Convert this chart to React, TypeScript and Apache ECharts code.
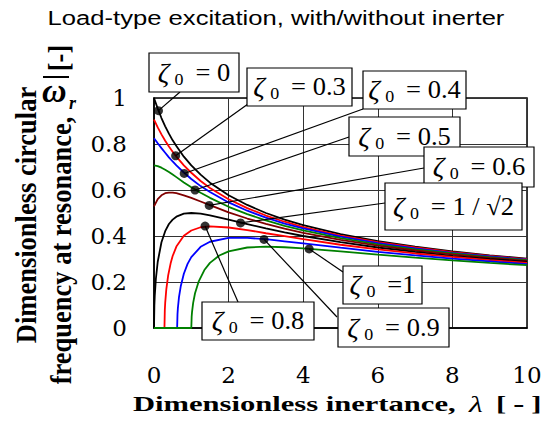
import React, { useEffect, useRef } from "react";
import * as echarts from "echarts";

const SERIF = "Liberation Serif, Times New Roman, serif";
const SANS = "Liberation Sans, Arial, sans-serif";
const TICK_FONT = "DejaVu Serif, serif";

// λ grid shared by the curves that start at λ = 0 with a non-zero value
const lambdaGrid = [0, 0.1, 0.2, 0.3, 0.4, 0.5, 0.6, 0.8, 1, 1.25, 1.5, 2, 2.5, 3, 3.5, 4, 5, 6, 7, 8, 9, 10];
const omegaZeta0 = [1, 0.954, 0.913, 0.877, 0.845, 0.816, 0.791, 0.745, 0.707, 0.667, 0.632, 0.577, 0.535, 0.5, 0.471, 0.447, 0.408, 0.378, 0.354, 0.333, 0.316, 0.302];
const omegaZeta03 = [0.906, 0.872, 0.842, 0.814, 0.789, 0.766, 0.745, 0.707, 0.675, 0.639, 0.609, 0.56, 0.521, 0.489, 0.462, 0.439, 0.402, 0.373, 0.35, 0.33, 0.313, 0.299];
const omegaZeta04 = [0.825, 0.803, 0.782, 0.762, 0.742, 0.724, 0.707, 0.676, 0.648, 0.617, 0.591, 0.546, 0.51, 0.48, 0.454, 0.433, 0.397, 0.369, 0.346, 0.327, 0.311, 0.297];
const omegaZeta05 = [0.707, 0.704, 0.697, 0.688, 0.678, 0.667, 0.656, 0.633, 0.612, 0.588, 0.566, 0.527, 0.495, 0.468, 0.444, 0.424, 0.391, 0.364, 0.342, 0.324, 0.308, 0.295];
const omegaZeta06 = [0.529, 0.56, 0.577, 0.586, 0.589, 0.589, 0.586, 0.577, 0.566, 0.55, 0.534, 0.503, 0.476, 0.453, 0.432, 0.414, 0.383, 0.358, 0.337, 0.32, 0.305, 0.292];

// curves that start from zero: [λ, ω̄r] pairs
const curveZetaInvSqrt2 = [[0, 0], [0.01, 0.099], [0.02, 0.139], [0.05, 0.213], [0.1, 0.288], [0.2, 0.373], [0.3, 0.421], [0.4, 0.452], [0.5, 0.471], [0.6, 0.484], [0.8, 0.497], [1, 0.5], [1.25, 0.497], [1.5, 0.49], [2, 0.471], [2.5, 0.452], [3, 0.433], [3.5, 0.416], [4, 0.4], [5, 0.373], [6, 0.35], [7, 0.331], [8, 0.314], [9, 0.3], [10, 0.288]];
const curveZeta08 = [[0, 0], [0.28, 0], [0.29, 0.078], [0.3, 0.109], [0.33, 0.168], [0.38, 0.229], [0.45, 0.284], [0.5, 0.313], [0.6, 0.354], [0.8, 0.401], [1, 0.424], [1.25, 0.438], [1.5, 0.442], [2, 0.437], [2.5, 0.426], [3, 0.412], [3.5, 0.399], [4, 0.386], [5, 0.362], [6, 0.342], [7, 0.324], [8, 0.309], [9, 0.295], [10, 0.283]];
const curveZeta09 = [[0, 0], [0.62, 0], [0.63, 0.061], [0.64, 0.086], [0.67, 0.134], [0.72, 0.184], [0.8, 0.236], [0.9, 0.279], [1, 0.308], [1.25, 0.353], [1.5, 0.375], [2, 0.392], [2.5, 0.392], [3, 0.386], [3.5, 0.377], [4, 0.368], [5, 0.349], [6, 0.331], [7, 0.316], [8, 0.302], [9, 0.29], [10, 0.278]];
const curveZeta1 = [[0, 0], [1, 0], [1.01, 0.05], [1.02, 0.07], [1.05, 0.109], [1.1, 0.151], [1.2, 0.203], [1.35, 0.252], [1.5, 0.283], [1.75, 0.315], [2, 0.333], [2.5, 0.35], [3, 0.354], [3.5, 0.351], [4, 0.346], [5, 0.333], [6, 0.319], [7, 0.306], [8, 0.294], [9, 0.283], [10, 0.273]];

// labelled points (one per curve)
const zetaLabels = ["0", "0.3", "0.4", "0.5", "0.6", "1 / √2", "0.8", "0.9", "1"];
const dotLambda = [0.12, 0.58, 0.81, 1.1, 1.48, 2.32, 1.37, 2.95, 4.16];
const dotOmega = [0.945, 0.749, 0.672, 0.6, 0.533, 0.457, 0.443, 0.385, 0.344];

// label box layout (pixels): [x, y, w, h, anchorX, anchorY]
const boxLayout = [
  [149, 53, 90, 39, 180, 92],
  [247, 68, 105, 38, 248, 104],
  [363, 71, 103, 38, 363, 109],
  [349, 117, 111, 39, 349, 137],
  [424, 147, 110, 40, 424, 168],
  [385, 183, 137, 47, 385, 203],
  [202, 302, 112, 38, 238, 302],
  [338, 308, 111, 39, 337, 317],
  [343, 266, 79, 38, 343, 272],
];

const zip = (xs: number[], ys: number[]) => xs.map((x, i) => [x, ys[i]]);

const curves = [
  { data: zip(lambdaGrid, omegaZeta0), color: "#000000" },
  { data: zip(lambdaGrid, omegaZeta03), color: "#ff0000" },
  { data: zip(lambdaGrid, omegaZeta04), color: "#0000ff" },
  { data: zip(lambdaGrid, omegaZeta05), color: "#008000" },
  { data: zip(lambdaGrid, omegaZeta06), color: "#800000" },
  { data: curveZetaInvSqrt2, color: "#000000" },
  { data: curveZeta08, color: "#ff0000" },
  { data: curveZeta09, color: "#0000ff" },
  { data: curveZeta1, color: "#008000" },
];

function buildOption() {
  const dots = zip(dotLambda, dotOmega);
  const rich = {
    z: { fontFamily: SERIF, fontStyle: "italic", fontSize: 27, lineHeight: 30, fill: "#000" },
    s: { fontFamily: SERIF, fontSize: 17, lineHeight: 17, verticalAlign: "bottom", padding: [0, 5, 0, 5], fill: "#000" },
    t: { fontFamily: SERIF, fontSize: 25, lineHeight: 30, fill: "#000" },
  };
  const boxes: any[] = [];
  zetaLabels.forEach((lab, i) => {
    const [bx, by, bw, bh] = boxLayout[i];
    const eq = lab === "1" ? " =1" : " = " + lab;
    boxes.push({
      type: "rect",
      z: 100,
      shape: { x: bx, y: by, width: bw, height: bh },
      style: { fill: "#fff", stroke: "#000", lineWidth: 1.2 },
    });
    boxes.push({
      type: "text",
      z: 101,
      x: bx + bw / 2,
      y: by + bh / 2,
      scaleX: 1.06,
      style: {
        text: `{z|ζ}{s|0}{t|${eq}}`,
        rich,
        fontFamily: SERIF,
        fontSize: 25,
        align: "center",
        verticalAlign: "middle",
      },
    });
  });

  const graphic: any[] = [
    {
      type: "text",
      x: 276,
      y: 18,
      scaleX: 1.22,
      z: 100,
      style: {
        text: "Load-type excitation, with/without inerter",
        fontFamily: SANS,
        fontSize: 21,
        fill: "#000",
        align: "center",
        verticalAlign: "middle",
      },
    },
    {
      type: "text",
      x: 26,
      y: 215,
      rotation: Math.PI / 2,
      scaleY: 1.1,
      z: 100,
      style: {
        text: "Dimensionless circular",
        fontFamily: SERIF,
        fontWeight: "bold",
        fontSize: 26.5,
        fill: "#000",
        align: "center",
        verticalAlign: "middle",
      },
    },
    {
      type: "text",
      x: 61,
      y: 250.5,
      rotation: Math.PI / 2,
      scaleY: 1.1,
      z: 100,
      style: {
        text: "frequency at resonance,",
        fontFamily: SERIF,
        fontWeight: "bold",
        fontSize: 26.5,
        fill: "#000",
        align: "center",
        verticalAlign: "middle",
      },
    },
    {
      type: "text",
      x: 59,
      y: 58,
      rotation: Math.PI / 2,
      scaleY: 1.1,
      z: 100,
      style: {
        text: "[-]",
        fontFamily: SERIF,
        fontWeight: "bold",
        fontSize: 26.5,
        fill: "#000",
        align: "center",
        verticalAlign: "middle",
      },
    },
    {
      type: "text",
      x: 42,
      y: 90,
      z: 100,
      style: {
        text: "ω",
        fontFamily: SERIF,
        fontStyle: "italic",
        fontWeight: "bold",
        fontSize: 34,
        fill: "#000",
        align: "left",
        verticalAlign: "middle",
      },
    },
    {
      type: "line",
      z: 100,
      shape: { x1: 43, y1: 77, x2: 69, y2: 77 },
      style: { stroke: "#000", lineWidth: 2 },
    },
    {
      type: "text",
      x: 69,
      y: 103,
      z: 100,
      style: {
        text: "r",
        fontFamily: SERIF,
        fontStyle: "italic",
        fontWeight: "bold",
        fontSize: 18,
        fill: "#000",
        align: "left",
        verticalAlign: "middle",
      },
    },
    {
      type: "text",
      x: 133,
      y: 404,
      scaleX: 1.39,
      z: 100,
      style: {
        text: "{b|Dimensionless inertance,}{g| }{l|λ}{g| }{b|[}{h|-}{b|]}",
        fontFamily: SERIF,
        fontSize: 22,
        fill: "#000",
        align: "left",
        verticalAlign: "middle",
        rich: {
          b: { fontFamily: SERIF, fontWeight: "bold", fontSize: 22, fill: "#000" },
          g: { fontFamily: SERIF, fontWeight: "bold", fontSize: 22, padding: [0, 2, 0, 2], fill: "#000" },
          l: { fontFamily: SERIF, fontStyle: "italic", fontSize: 23, fill: "#000" },
          h: { fontFamily: SERIF, fontWeight: "bold", fontSize: 24, padding: [0, 5, 0, 5], fill: "#000" },
        },
      },
    },
    ...boxes,
  ];

  return {
    animation: false,
    backgroundColor: "#fff",
    grid: {
      left: 154,
      right: 28,
      top: 98,
      bottom: 94,
      show: true,
      borderColor: "#000",
      borderWidth: 1.5,
      containLabel: false,
    },
    xAxis: {
      type: "value",
      min: 0,
      max: 10,
      interval: 2,
      axisLine: { show: true, onZero: false, lineStyle: { color: "#000", width: 1.5 } },
      axisTick: { show: false },
      splitLine: { show: true, lineStyle: { color: "#333", width: 1 } },
      axisLabel: { fontFamily: TICK_FONT, fontSize: 23, color: "#000", margin: 35 },
    },
    yAxis: {
      type: "value",
      min: 0,
      max: 1,
      interval: 0.2,
      axisLine: { show: true, onZero: false, lineStyle: { color: "#000", width: 1.5 } },
      axisTick: { show: false },
      splitLine: { show: true, lineStyle: { color: "#333", width: 1 } },
      axisLabel: { fontFamily: TICK_FONT, fontSize: 23, color: "#000", margin: 27 },
    },
    series: [
      ...curves.map((c) => ({
        type: "line",
        data: c.data,
        showSymbol: false,
        silent: true,
        lineStyle: { color: c.color, width: 1.8 },
        itemStyle: { color: c.color },
        z: 2,
      })),
      {
        type: "scatter",
        data: dots,
        symbolSize: 9,
        silent: true,
        itemStyle: { color: "#000" },
        z: 5,
        markLine: {
          silent: true,
          symbol: ["none", "none"],
          label: { show: false },
          lineStyle: { color: "#000", width: 1.2, type: "solid" },
          data: dots.map((d, i) => [
            { coord: d },
            { x: boxLayout[i][4], y: boxLayout[i][5] },
          ]),
        },
      },
    ],
    graphic,
  };
}

export default function App() {
  const ref = useRef<HTMLDivElement>(null);
  useEffect(() => {
    document.body.style.margin = "0";
    const chart = echarts.init(ref.current!, null, { renderer: "svg" });
    chart.setOption(buildOption() as any);
    return () => chart.dispose();
  }, []);
  return <div ref={ref} style={{ width: 555, height: 422 }} />;
}
